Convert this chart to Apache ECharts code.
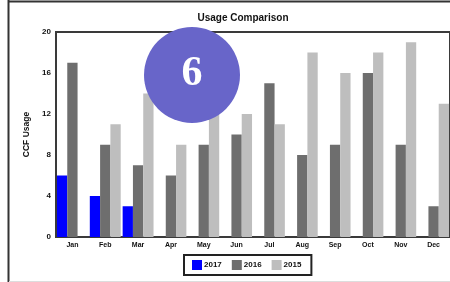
<!DOCTYPE html>
<html><head><meta charset="utf-8">
<script src="https://cdn.jsdelivr.net/npm/echarts@6/dist/echarts.min.js"></script>
<style>html,body{margin:0;padding:0;background:#fff}#c{width:450px;height:282px}</style>
</head><body><div id="c"></div>
<script>
var categories = ['Jan','Feb','Mar','Apr','May','Jun','Jul','Aug','Sep','Oct','Nov','Dec'];
var s2017 = [6,4,3,0,0,0,0,0,0,0,0,0];
var s2016 = [17,9,7,6,9,10,15,8,9,16,9,3];
var s2015 = [0,11,14,9,13,12,11,18,16,18,19,13];
var yTicks = [0,4,8,12,16,20];
var seriesNames = ['2017','2016','2015'];

var chart = echarts.init(document.getElementById('c'), null, {renderer:'canvas'});
var font = 'Liberation Sans';
function bar(name, data, color){
  return {name:name, type:'bar', data:data, barWidth:10.3, barGap:'0%',
    itemStyle:{color:color}, emphasis:{disabled:true}, animation:false};
}
chart.setOption({
  animation:false,
  title:{text:'Usage Comparison', left:238, textAlign:'center', top:8,
    textStyle:{fontFamily:font, fontSize:10, fontWeight:'bold', color:'#111'}},
  grid:{left:56, top:32, bottom:45, right:-5, show:true, borderColor:'#3a3a3a', borderWidth:2, containLabel:false},
  legend:{data:seriesNames, left:184, top:255, orient:'horizontal',
    itemWidth:10, itemHeight:10, itemGap:10, icon:'rect',
    padding:[5,10,5,8], borderColor:'#222', borderWidth:2,
    textStyle:{fontFamily:font, fontSize:8, fontWeight:'bold', color:'#111', padding:[0,0,0,-3]}},
  xAxis:{type:'category', data:categories, axisLine:{show:false}, axisTick:{show:false},
    axisLabel:{fontFamily:font, fontSize:7, fontWeight:'bold', color:'#111', margin:5}},
  yAxis:{type:'value', min:0, max:20, interval:4, name:'CCF Usage', nameLocation:'middle', nameGap:24,
    nameTextStyle:{fontFamily:font, fontSize:8.5, fontWeight:'bold', color:'#111'},
    axisLine:{show:false}, axisTick:{show:false}, splitLine:{show:false},
    axisLabel:{fontFamily:font, fontSize:8, fontWeight:'bold', color:'#111', margin:5,
      formatter:function(v){return yTicks.indexOf(v)>=0 ? String(v) : '';}}},
  series:[bar(seriesNames[0], s2017, '#0000ff'), bar(seriesNames[1], s2016, '#6e6e6e'), bar(seriesNames[2], s2015, '#bebebe')],
  graphic:[
    {type:'line', shape:{x1:8.5, y1:0, x2:8.5, y2:282}, style:{stroke:'#333', lineWidth:2}, z:10},
    {type:'line', shape:{x1:8, y1:1.5, x2:450, y2:1.5}, style:{stroke:'#333', lineWidth:2}, z:10},
    {type:'line', shape:{x1:9, y1:281.5, x2:450, y2:281.5}, style:{stroke:'#dddddd', lineWidth:1}, z:10},
    {type:'circle', shape:{cx:192, cy:75, r:48}, style:{fill:'#6865c9'}, z:100},
    {type:'text', x:192, y:74, z:101, style:{text:'6', fill:'#ffffff', font:'bold 42px "Liberation Serif"', align:'center', verticalAlign:'middle'}}
  ]
});
</script></body></html>
